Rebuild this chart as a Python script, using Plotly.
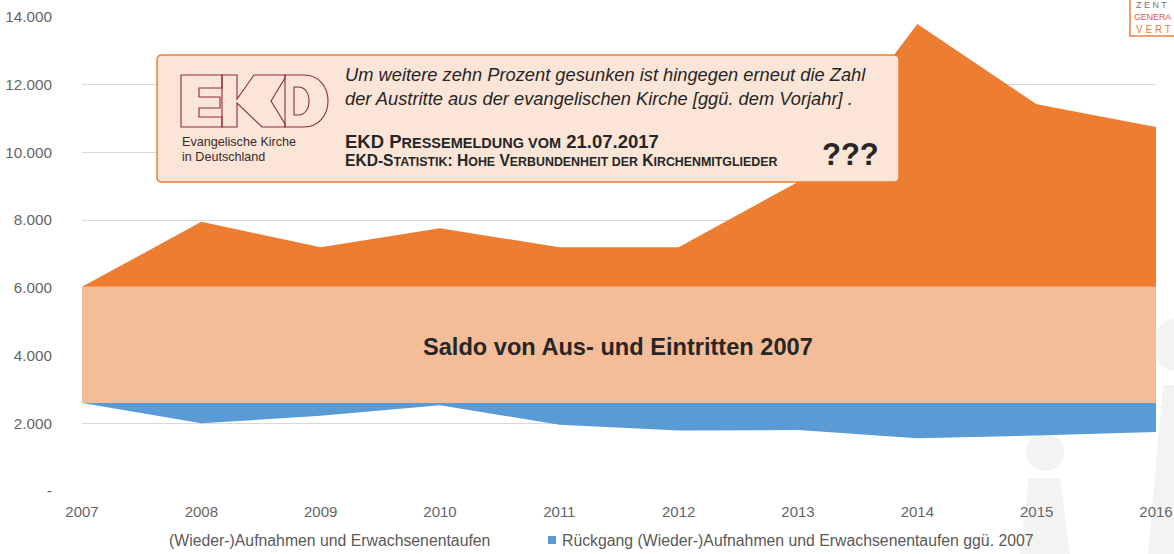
import plotly.graph_objects as go

# ---------------- data ----------------
years = [2007, 2008, 2009, 2010, 2011, 2012, 2013, 2014, 2015, 2016]
aufnahmen = [2600, 2000, 2220, 2530, 1960, 1790, 1800, 1560, 1640, 1740]
rueckgang = [aufnahmen[0] - a for a in aufnahmen]
saldo_2007 = [3430] * 10
zunahme_austritte = [0, 1920, 1170, 1730, 1170, 1170, 3100, 7760, 5390, 4720]

y_tickvals = [0, 2000, 4000, 6000, 8000, 10000, 12000, 14000]
y_ticktext = ["-", "2.000", "4.000", "6.000", "8.000", "10.000", "12.000", "14.000"]

legend_names = ["(Wieder-)Aufnahmen und Erwachsenentaufen",
                "Rückgang (Wieder-)Aufnahmen und Erwachsenentaufen ggü. 2007"]

# ---------------- layout helpers ----------------
W, H = 1174, 554
L, R, T, B = 82, 1156, 17, 491
FONT = "Liberation Sans, Arial, sans-serif"


def px(x, y):
    return (x - L) / (R - L), (B - y) / (B - T)


def poly(points):
    s = ""
    for i, (x, y) in enumerate(points):
        a, b = px(x, y)
        s += ("M" if i == 0 else "L") + f"{a:.5f},{b:.5f} "
    return s + "Z"


def pp(x, y):
    a, b = px(x, y)
    return f"{a:.5f},{b:.5f}"


def rounded_rect(x0, y0, x1, y1, r):
    return (f"M{pp(x0 + r, y0)} L{pp(x1 - r, y0)} Q{pp(x1, y0)} {pp(x1, y0 + r)} "
            f"L{pp(x1, y1 - r)} Q{pp(x1, y1)} {pp(x1 - r, y1)} L{pp(x0 + r, y1)} "
            f"Q{pp(x0, y1)} {pp(x0, y1 - r)} L{pp(x0, y0 + r)} Q{pp(x0, y0)} {pp(x0 + r, y0)} Z")


fig = go.Figure()
fig.add_trace(go.Scatter(x=years, y=aufnahmen, stackgroup="one", mode="none",
                         fillcolor="rgba(0,0,0,0)", name=legend_names[0],
                         showlegend=False))
fig.add_trace(go.Scatter(x=years, y=rueckgang, stackgroup="one", mode="none",
                         fillcolor="#5B9BD5", name=legend_names[1], showlegend=False))
fig.add_trace(go.Scatter(x=years, y=saldo_2007, stackgroup="one", mode="none",
                         fillcolor="#F5BC98", name="Saldo 2007", showlegend=False))
fig.add_trace(go.Scatter(x=years, y=zunahme_austritte, stackgroup="one", mode="none",
                         fillcolor="#ED7D31", name="Zunahme Austritte", showlegend=False))

shapes = []
# faint watermark figures (behind)
wm = "#F3F3F3"
a0, b0 = px(1026, 471)
a1, b1 = px(1064, 433)
shapes.append(dict(type="circle", xref="paper", yref="paper", x0=a0, y0=b0, x1=a1, y1=b1,
                   fillcolor=wm, line=dict(width=0), layer="below"))
shapes.append(dict(type="path", xref="paper", yref="paper",
                   path=poly([(1029, 478), (1060, 478), (1070, 554), (1020, 554)]),
                   fillcolor=wm, line=dict(width=0), layer="below"))
a0, b0 = px(1152, 372)
a1, b1 = px(1206, 318)
shapes.append(dict(type="circle", xref="paper", yref="paper", x0=a0, y0=b0, x1=a1, y1=b1,
                   fillcolor=wm, line=dict(width=0), layer="below"))
shapes.append(dict(type="path", xref="paper", yref="paper",
                   path=poly([(1163, 385), (1180, 385), (1180, 554), (1148, 554)]),
                   fillcolor=wm, line=dict(width=0), layer="below"))

# quote box
shapes.append(dict(type="path", xref="paper", yref="paper",
                   path=rounded_rect(157, 55, 899, 182, 5),
                   fillcolor="#FBE5D7", line=dict(color="#ED7D31", width=1.5), layer="above"))

# EKD logo outlines
logo = "#8E2A45"
logo_polys = [
    [(181, 75), (222, 75), (222, 88), (199, 88), (199, 97), (220, 97), (220, 108),
     (199, 108), (199, 117), (222, 117), (222, 127), (181, 127)],
    [(222, 75), (237, 75), (237, 99), (254, 75), (285, 75), (285, 78), (271, 101),
     (285, 124), (285, 127), (262, 127), (237, 103), (237, 127), (222, 127)],
]
for pl in logo_polys:
    shapes.append(dict(type="path", xref="paper", yref="paper", path=poly(pl),
                       line=dict(color=logo, width=1.1), layer="above"))

d_outer = (f"M{pp(285, 75)} L{pp(304, 75)} C{pp(318, 75)} {pp(328, 86)} {pp(328, 101)} "
           f"C{pp(328, 116)} {pp(318, 127)} {pp(304, 127)} L{pp(285, 127)} Z")
d_inner = (f"M{pp(294, 87)} L{pp(298, 87)} C{pp(305, 87)} {pp(309, 93)} {pp(309, 101)} "
           f"C{pp(309, 109)} {pp(305, 115)} {pp(298, 115)} L{pp(294, 115)} Z")
for d in (d_outer, d_inner):
    shapes.append(dict(type="path", xref="paper", yref="paper", path=d,
                       line=dict(color=logo, width=1.1), layer="above"))

# top right logo box (partly outside the picture, as in the reference)
a0, b0 = px(1130, -2)
a1, b1 = px(1190, 36)
shapes.append(dict(type="rect", xref="paper", yref="paper", x0=a0, y0=b0, x1=a1, y1=b1,
                   fillcolor="white", line=dict(color="#F07F3C", width=1.5), layer="above"))

# legend square
a0, b0 = px(548, 544)
a1, b1 = px(556, 536)
shapes.append(dict(type="rect", xref="paper", yref="paper", x0=a0, y0=b0, x1=a1, y1=b1,
                   fillcolor="#5B9BD5", line=dict(width=0)))

annotations = []


def text(x, y, t, size, color="#262626", anchor="left", family=FONT):
    a, b = px(x, y)
    annotations.append(dict(x=a, y=b, xref="paper", yref="paper", text=t, showarrow=False,
                            xanchor=anchor, yanchor="middle",
                            font=dict(size=size, color=color, family=family)))


S = "<span style='font-size:{}px'>{}</span>"
text(343, 75, "<i>Um weitere zehn Prozent gesunken ist hingegen erneut die Zahl</i>", 18.3)
text(343, 98, "<i>der Austritte aus der evangelischen Kirche [ggü. dem Vorjahr] .</i>", 18.3)
text(343, 141, "<b>EKD P" + S.format(14.5, "RESSEMELDUNG VOM") + " 21.07.2017</b>", 18.5)
text(343, 161, "<b>EKD-S" + S.format(12.4, "TATISTIK") + ": H" + S.format(12.4, "OHE") +
     " V" + S.format(12.4, "ERBUNDENHEIT DER") + " K" + S.format(12.4, "IRCHENMITGLIEDER") + "</b>",
     15.6)
text(850, 154, "<b>???</b>", 31, anchor="center")
text(618, 347, "<b>Saldo von Aus- und Eintritten 2007</b>", 23.6, anchor="center")
text(180, 142, "Evangelische Kirche", 12.6, color="#3a2a2a",
     family="Liberation Sans Narrow, Arial Narrow, sans-serif")
text(180, 157, "in Deutschland", 12.6, color="#3a2a2a",
     family="Liberation Sans Narrow, Arial Narrow, sans-serif")
# legend texts
text(329, 540, legend_names[0], 15.8, color="#595959", anchor="center")
text(560, 540, legend_names[1], 15.8, color="#595959", anchor="left")
# top-right logo texts (visible part)
text(1134, 5, "Z E N T", 9, color="#777777")
text(1132, 17, "GENERA", 8.8, color="#E8553A")
text(1134, 29, "V E R T", 10, color="#F07F3C")

fig.update_layout(
    width=W, height=H,
    margin=dict(l=L, r=W - R, t=T, b=H - B, pad=0, autoexpand=False),
    paper_bgcolor="white", plot_bgcolor="white",
    showlegend=False,
    shapes=shapes, annotations=annotations,
    xaxis=dict(range=[2007, 2016], tickvals=years, ticktext=[str(y) for y in years],
               showgrid=False, zeroline=False, showline=False, automargin=False,
               ticks="outside", ticklen=7, tickcolor="rgba(0,0,0,0)",
               tickfont=dict(size=15, color="#666666", family=FONT)),
    yaxis=dict(range=[0, 14000], tickvals=y_tickvals, ticktext=y_ticktext,
               showgrid=True, gridcolor="#D9D9D9", gridwidth=1, zeroline=False,
               showline=False, automargin=False, ticks="outside", ticklen=26,
               tickcolor="rgba(0,0,0,0)",
               tickfont=dict(size=15.3, color="#666666", family=FONT)),
)

fig.write_html("out.html", config={"displayModeBar": False},
               post_script="document.body.style.margin='0';document.body.style.overflow='hidden';")
